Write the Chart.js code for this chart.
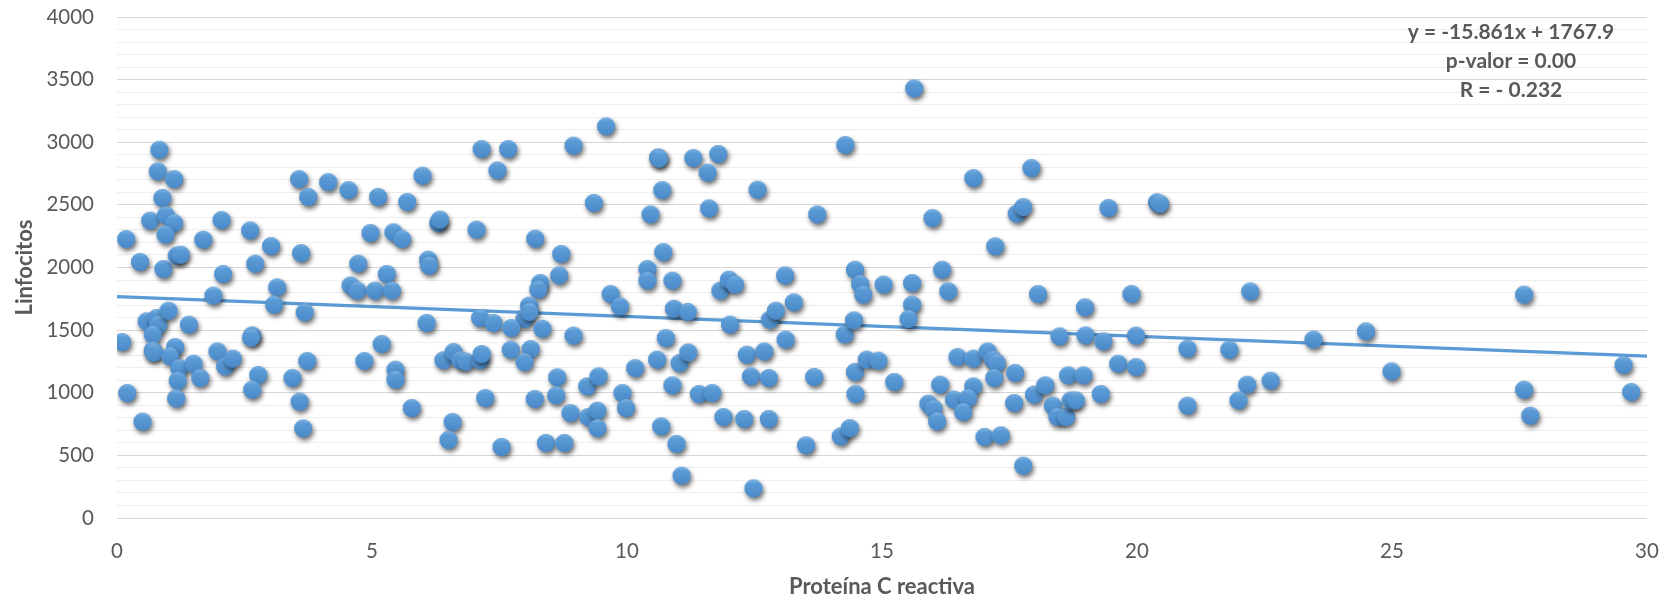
<!DOCTYPE html>
<html>
<head>
<meta charset="utf-8">
<script src="https://cdn.jsdelivr.net/npm/chart.js@4.4.1/dist/chart.umd.min.js"></script>
<style>
html,body{margin:0;padding:0;background:#fff;}
#wrap{width:1675px;height:600px;}
</style>
</head>
<body>
<div id="wrap"><canvas id="c" width="1675" height="600"></canvas></div>
<script>
// Proteína C reactiva (x) and Linfocitos (y)
const proteinaC = [
0.10,0.18,0.20,0.45,0.50,0.58,0.78,0.81,0.70,0.70,0.72,0.65,0.83,0.80,1.12,0.89,0.96,1.12,0.95,0.91,
1.17,1.25,1.69,2.05,2.61,3.02,2.71,2.08,3.61,3.57,3.75,4.14,4.54,5.12,5.69,5.99,6.30,6.33,7.05,7.15,
4.97,5.42,5.59,4.73,5.29,6.10,6.12,4.58,4.71,5.06,5.39,1.89,3.14,3.08,3.68,1.01,1.41,1.14,1.04,1.22,
1.50,1.19,1.63,1.16,1.97,2.12,2.27,2.65,2.63,2.77,2.65,3.44,3.73,3.58,3.65,4.85,5.19,5.46,5.46,5.78,
6.07,6.40,6.60,6.73,6.84,7.12,7.15,7.12,7.22,6.58,6.50,
9.59,7.67,7.46,8.95,9.35,10.61,10.63,11.30,11.79,11.58,10.69,10.46,11.61,12.56,13.73,14.28,8.20,8.71,8.67,
8.30,8.26,10.71,10.40,10.40,10.89,9.68,9.86,11.83,12.00,12.12,13.10,13.27,14.47,8.08,7.99,8.09,7.38,7.73,8.34,
8.95,10.92,11.19,12.02,12.80,12.92,14.27,14.45,10.76,7.72,8.11,7.99,13.11,10.59,11.03,11.20,12.35,12.69,12.43,12.78,
13.67,14.47,10.16,8.63,8.61,9.22,9.44,10.89,9.91,9.98,11.41,11.67,8.19,8.89,9.24,9.42,9.42,11.89,12.30,12.78,
14.48,10.67,10.97,14.19,14.37,13.51,11.07,12.48,7.54,8.41,8.77,
15.63,16.79,17.93,15.99,17.64,17.77,19.44,20.39,20.45,17.22,14.57,14.63,15.03,15.59,16.18,16.30,15.59,15.52,18.06,18.98,
19.89,18.48,18.99,19.34,19.98,20.99,14.70,14.93,15.24,16.48,16.79,17.07,17.18,17.25,17.20,17.61,16.14,16.79,15.91,16.01,
16.08,16.41,16.69,16.59,17.01,17.33,17.77,17.59,17.98,18.20,18.65,18.95,18.35,18.44,18.61,18.70,18.80,19.29,19.63,19.98,
20.99,22.22,21.81,22.16,21.99,22.62,23.46,24.49,24.99,27.59,27.59,27.71,29.54,29.69
];
const linfocitos = [
1405,2227,998,2044,769,1570,1597,1543,1464,1338,1320,2374,2940,2767,2706,2555,2416,2355,2262,1988,
2094,2102,2222,2379,2296,2171,2030,1948,2115,2706,2563,2682,2618,2563,2523,2733,2355,2382,2302,2946,
2275,2281,2227,2030,1948,2062,2014,1857,1815,1815,1815,1775,1841,1703,1642,1655,1543,1365,1291,1197,
1232,1096,1118,955,1330,1211,1272,1458,1440,1142,1024,1118,1253,929,716,1253,1389,1184,1104,878,
1557,1259,1325,1259,1248,1259,1309,1597,958,766,623,
3127,2946,2775,2973,2515,2879,2869,2874,2906,2757,2618,2424,2472,2621,2424,2978,2230,2108,1937,
1876,1823,2123,1988,1895,1895,1788,1690,1815,1903,1863,1937,1722,1982,1695,1589,1645,1557,1517,1511,
1456,1671,1645,1544,1583,1655,1466,1578,1437,1344,1349,1245,1424,1264,1237,1322,1304,1330,1131,1118,
1126,1166,1197,1123,979,1051,1131,1059,998,878,990,998,950,838,806,857,718,806,790,790,
990,732,591,652,718,580,338,237,567,599,599,
3430,2714,2794,2395,2430,2483,2475,2520,2508,2169,1868,1783,1863,1876,1982,1810,1703,1589,1788,1682,
1788,1450,1458,1410,1456,1352,1264,1256,1086,1285,1272,1330,1264,1237,1118,1158,1064,1051,913,873,
772,945,958,846,647,660,418,918,985,1059,1139,1139,897,806,806,939,939,990,1232,1205,
897,1809,1344,1064,939,1096,1424,1490,1171,1783,1024,817,1221,1006
];
const xTickStep = 5;
const yTickStep = 500;
const trendSlope = -15.861;
const trendIntercept = 1767.9;
const annotationLines = ['y = -15.861x + 1767.9', 'p-valor = 0.00', 'R = - 0.232'];

const points = proteinaC.map((x, i) => ({x: x, y: linfocitos[i]}));
const trendData = [0, 30].map(x => ({x: x, y: trendSlope * x + trendIntercept}));

function makeSprite() {
  const r = 9, s = 36, c = s / 2;
  const cv = document.createElement('canvas');
  cv.width = s; cv.height = s;
  const g = cv.getContext('2d');
  g.save();
  g.shadowColor = 'rgba(0,0,0,0.6)';
  g.shadowBlur = 5;
  g.shadowOffsetX = 1.5;
  g.shadowOffsetY = 3;
  g.beginPath(); g.arc(c, c, r, 0, Math.PI * 2);
  g.fillStyle = '#4a88c7'; g.fill();
  g.restore();
  const grd = g.createLinearGradient(0, c - r, 0, c + r);
  grd.addColorStop(0, '#7db3e4');
  grd.addColorStop(0.25, '#5b9bd5');
  grd.addColorStop(1, '#4a89c9');
  g.beginPath(); g.arc(c, c, r, 0, Math.PI * 2);
  g.fillStyle = grd; g.fill();
  return cv;
}
const sprite = makeSprite();

const textColor = '#595959';
const fontFam = 'Lato, "Open Sans", sans-serif';

const annotationPlugin = {
  id: 'eqText',
  afterDatasetsDraw(chart) {
    const ctx = chart.ctx;
    const area = chart.chartArea;
    ctx.save();
    ctx.fillStyle = textColor;
    ctx.font = 'bold 21px ' + fontFam;
    ctx.textAlign = 'center';
    ctx.textBaseline = 'middle';
    const cx = area.right - 136;
    annotationLines.forEach((t, i) => ctx.fillText(t, cx, area.top + 15 + i * 29));
    ctx.restore();
  }
};

new Chart(document.getElementById('c'), {
  type: 'scatter',
  data: {
    datasets: [
      {
        type: 'line',
        label: 'Tendencia',
        data: trendData,
        borderColor: '#5b9bd5',
        borderWidth: 3.2,
        pointRadius: 0,
        fill: false,
        order: 1
      },
      {
        label: 'Linfocitos',
        data: points,
        pointStyle: sprite,
        pointRadius: 9,
        order: 0
      }
    ]
  },
  options: {
    responsive: false,
    devicePixelRatio: 1,
    animation: false,
    layout: {padding: {left: 0, right: 28, top: 17, bottom: 0}},
    plugins: {legend: {display: false}, tooltip: {enabled: false}},
    scales: {
      x: {
        type: 'linear',
        min: 0, max: 30,
        afterFit: s => { s.height = 82; s.paddingLeft = 0; s.paddingRight = 0; },
        grid: {display: false, drawTicks: false},
        border: {display: false},
        ticks: {stepSize: xTickStep, color: textColor, font: {family: fontFam, size: 20.5}, padding: 21},
        title: {display: true, text: 'Proteína C reactiva', color: textColor,
                font: {family: fontFam, size: 22, weight: 'bold'}, padding: {top: 0, bottom: 0}}
      },
      y: {
        min: 0, max: 4000,
        afterFit: s => { s.width = 117; s.paddingTop = 0; s.paddingBottom = 0; },
        grid: {
          drawTicks: false,
          color: c => (c.tick && c.tick.value % yTickStep === 0) ? '#d6d6d6' : '#eeeeee',
          lineWidth: 1
        },
        border: {display: false},
        ticks: {
          stepSize: 100, autoSkip: false, color: textColor, padding: 23,
          font: {family: fontFam, size: 20.5},
          callback: v => (v % yTickStep === 0 ? String(v) : '')
        },
        title: {display: true, text: 'Linfocitos', color: textColor,
                font: {family: fontFam, size: 22, weight: 'bold'}, padding: {top: 12, bottom: 0}}
      }
    }
  },
  plugins: [annotationPlugin]
});
</script>
</body>
</html>
